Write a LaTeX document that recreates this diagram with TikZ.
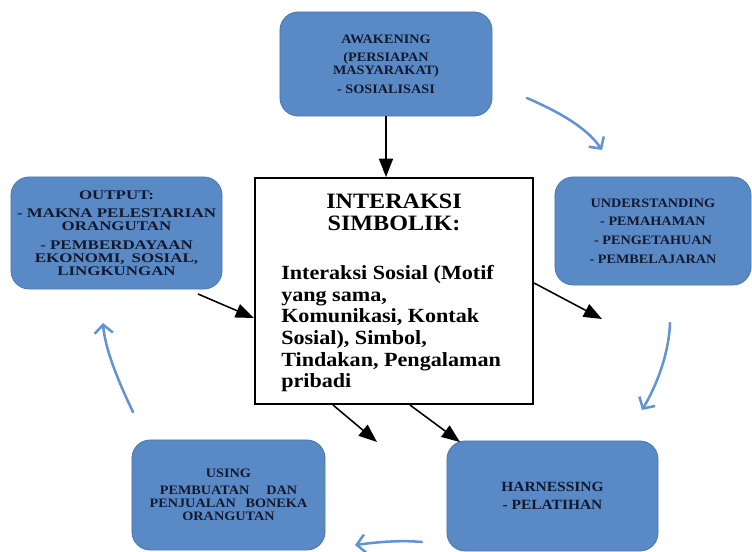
\documentclass[tikz,border=0pt]{standalone}
\usepackage{fontspec}
\setmainfont[FakeStretch=1.1]{Liberation Serif}
\newfontfamily\widefont[FakeStretch=1.28]{Liberation Serif}
\usepackage{tikz}
\usetikzlibrary{arrows.meta, positioning, calc}
\definecolor{stageblue}{RGB}{89,138,198}
\definecolor{stageline}{RGB}{72,118,176}
\definecolor{stagetext}{RGB}{20,24,45}
\definecolor{cycleblue}{RGB}{98,148,210}
\tikzset{
  stage/.style  = {draw=stageline, line width=0.6pt, fill=stageblue,
                   rounded corners=13pt, align=center, text=stagetext,
                   font=\bfseries\fontsize{9.2}{9.2}\selectfont, inner sep=2pt},
  widestage/.style = {stage, font=\widefont\bfseries\fontsize{9.4}{9.2}\selectfont},
  core/.style   = {draw, line width=1.4pt, fill=white, inner sep=0pt},
  heading/.style = {font=\bfseries\fontsize{15.6}{15.4}\selectfont,
                   align=center, inner sep=0pt},
  body/.style   = {font=\bfseries\fontsize{14.3}{15.4}\selectfont,
                   align=left, inner sep=0pt},
  push/.style   = {-{Triangle[length=13pt,width=10pt]}, line width=1.1pt},
  cycle/.style  = {-{Straight Barb[length=6pt,width=13pt]}, cycleblue,
                   line width=1.8pt, line cap=round},
}
\begin{document}
\begin{tikzpicture}[x=0.025cm, y=-0.025cm]
  \useasboundingbox (0,0) rectangle (752,552);

  \node[stage, minimum width=5.3cm,   minimum height=2.6cm]  (awaken)  at (386,64)
    {AWAKENING\\[4pt] (PERSIAPAN\\ MASYARAKAT)\\[4pt] - SOSIALISASI};
  \node[widestage, minimum width=5.275cm, minimum height=2.8cm]  (output)  at (116.5,233)
    {OUTPUT:\\[4pt] - MAKNA PELESTARIAN\\ ORANGUTAN\\[4pt] - PEMBERDAYAAN\\ EKONOMI,\hskip 5pt SOSIAL,\\ LINGKUNGAN};
  \node[stage, minimum width=4.9cm,   minimum height=2.7cm]  (underst) at (653,231)
    {UNDERSTANDING\\[4pt] - PEMAHAMAN\\[4pt] - PENGETAHUAN\\[4pt] - PEMBELAJARAN};
  \node[stage, minimum width=4.825cm, minimum height=2.75cm] (using)   at (228.5,495)
    {USING\\[3pt] PEMBUATAN\hskip 12pt DAN\\ PENJUALAN\hskip 7pt BONEKA\\ ORANGUTAN};
  \node[stage, font=\bfseries\fontsize{10}{9.2}\selectfont,
        minimum width=5.275cm, minimum height=2.75cm] (harness) at (552.5,496)
    {HARNESSING\\[4pt] - PELATIHAN};

  % symbolic interaction box
  \node[core, minimum width=6.95cm, minimum height=5.65cm] (inter) at (394,291) {};
  \node[heading, below=0.42cm of inter.north] (title) {INTERAKSI\\ SIMBOLIK:};
  \node[body, anchor=north west] (desc) at ($(inter.north west)+(27,88)$)
    {Interaksi Sosial (Motif\\ yang sama,\\ Komunikasi, Kontak\\ Sosial), Simbol,\\ Tindakan, Pengalaman\\ pribadi};

  % black arrows
  \coordinate (otail) at (198,294);
  \coordinate (utip)  at (602,319);
  \coordinate (ltip)  at (377,442);
  \coordinate (rtip)  at (460,442);
  \draw[push] (awaken.south) -- (awaken.south |- inter.north);
  \draw[push] (otail) -- ($(inter.west)+(0,27)$);
  \draw[push] ($(inter.east)+(0,-8)$) -- (utip);
  \draw[push] ($(inter.south)+(-61,0)$) -- (ltip);
  \draw[push] ($(inter.south)+(16,0)$) -- (rtip);

  % cycle arrows
  \coordinate (c1a) at (527,98);  \coordinate (c1b) at (602,150);
  \coordinate (c2a) at (670,323); \coordinate (c2b) at (642,410);
  \coordinate (c3a) at (422,542); \coordinate (c3b) at (355,545);
  \coordinate (c4a) at (133,412); \coordinate (c4b) at (103,323);
  \draw[cycle] (c1a) .. controls (552,109) and (585,125) .. (c1b);
  \draw[cycle] (c2a) .. controls (669,353) and (657,385) .. (c2b);
  \draw[cycle] (c3a) .. controls (400,540) and (378,542) .. (c3b);
  \draw[cycle] (c4a) .. controls (120,385) and (105,350) .. (c4b);
\end{tikzpicture}
\end{document}
